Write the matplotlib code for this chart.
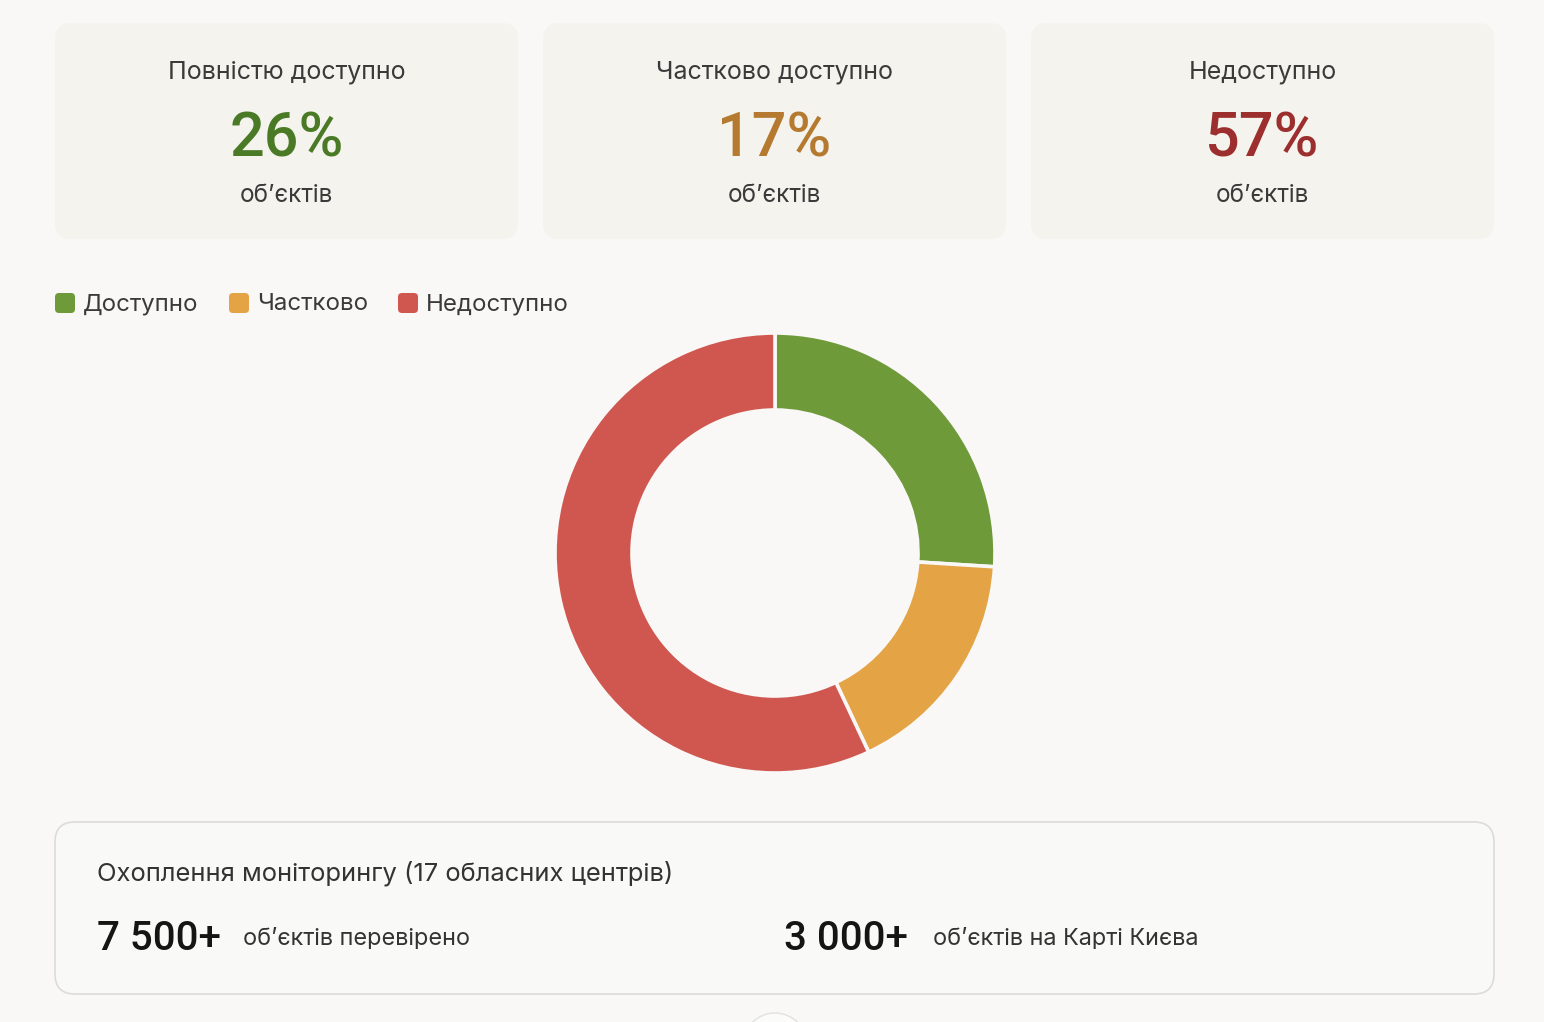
import matplotlib.pyplot as plt
from matplotlib.patches import FancyBboxPatch, Circle

plt.rcParams['font.family'] = ['Inter', 'DejaVu Sans']

# Data
categories = ['Доступно', 'Частково', 'Недоступно']
shares = [26, 17, 57]
card_titles = ['Повністю доступно', 'Частково доступно', 'Недоступно']
card_unit = 'об’єктів'
donut_colors = ['#6f9a3a', '#e4a445', '#d05750']
value_colors = ['#4a7a25', '#b57a30', '#9c2e2e']

coverage_title = 'Охоплення моніторингу (17 обласних центрів)'
coverage_values = ['7 500+', '3 000+']
coverage_labels = ['об’єктів перевірено', 'об’єктів на Карті Києва']

W, H = 1544, 1022
BG = '#f9f8f6'
fig = plt.figure(figsize=(W / 100, H / 100), dpi=100, facecolor=BG)
ax = fig.add_axes([0, 0, 1, 1])
ax.set_facecolor(BG)


def Y(y):
    return H - y


# Top cards
for i, (title, val, col) in enumerate(zip(card_titles, shares, value_colors)):
    x0 = 55 + i * 488
    card = FancyBboxPatch((x0, Y(239)), 463, 216, boxstyle='round,pad=0,rounding_size=16',
                          fc='#f4f3ed', ec='none')
    ax.add_patch(card)
    cx = x0 + 231.5
    ax.text(cx, Y(72), title, ha='center', va='center', fontsize=18, color='#3a3a3a')
    ax.text(cx, Y(139), f'{val}%', ha='center', va='center', fontsize=44,
            fontweight='medium', family=['Roboto', 'DejaVu Sans'], color=col)
    ax.text(cx, Y(195), card_unit, ha='center', va='center', fontsize=17.5, color='#3a3a3a')

# Legend
legend_x = [55, 229, 398]
for name, col, x in zip(categories, donut_colors, legend_x):
    sq = FancyBboxPatch((x, Y(313)), 20, 20, boxstyle='round,pad=0,rounding_size=4',
                        fc=col, ec='none')
    ax.add_patch(sq)
    ax.text(x + 28, Y(304), name, ha='left', va='center', fontsize=17.3, color='#3a3a3a')

# Donut
cx, cy = 775, Y(553)
r_out, ring = 220, 77
wedges, _ = ax.pie(shares, colors=donut_colors, startangle=90, counterclock=False,
                   radius=r_out, center=(cx, cy),
                   wedgeprops=dict(width=ring, edgecolor=BG, linewidth=2.6, joinstyle='round'))

ax.set_xlim(0, W)
ax.set_ylim(0, H)
ax.set_aspect('equal')
ax.axis('off')

# Coverage card
box = FancyBboxPatch((55, Y(994)), 1439, 172, boxstyle='round,pad=0,rounding_size=20',
                     fc='#f9f9f7', ec='#dcdbd8', lw=1.2)
ax.add_patch(box)
ax.text(97, Y(873), coverage_title, ha='left', va='center', fontsize=18.4, color='#333333')
for val, lab, vx, tx in zip(coverage_values, coverage_labels, [97, 784], [243, 933]):
    ax.text(vx, Y(939), val, ha='left', va='center', fontsize=29, fontweight='medium',
            family=['Roboto', 'DejaVu Sans'], color='#151515')
    ax.text(tx, Y(939), lab, ha='left', va='center', fontsize=16.9, color='#333333')

ax.add_patch(Circle((775, Y(1045)), 32, fc='#fbfbfa', ec='#e2e1de', lw=1))

fig.savefig('out.png', dpi=100, facecolor=BG)
